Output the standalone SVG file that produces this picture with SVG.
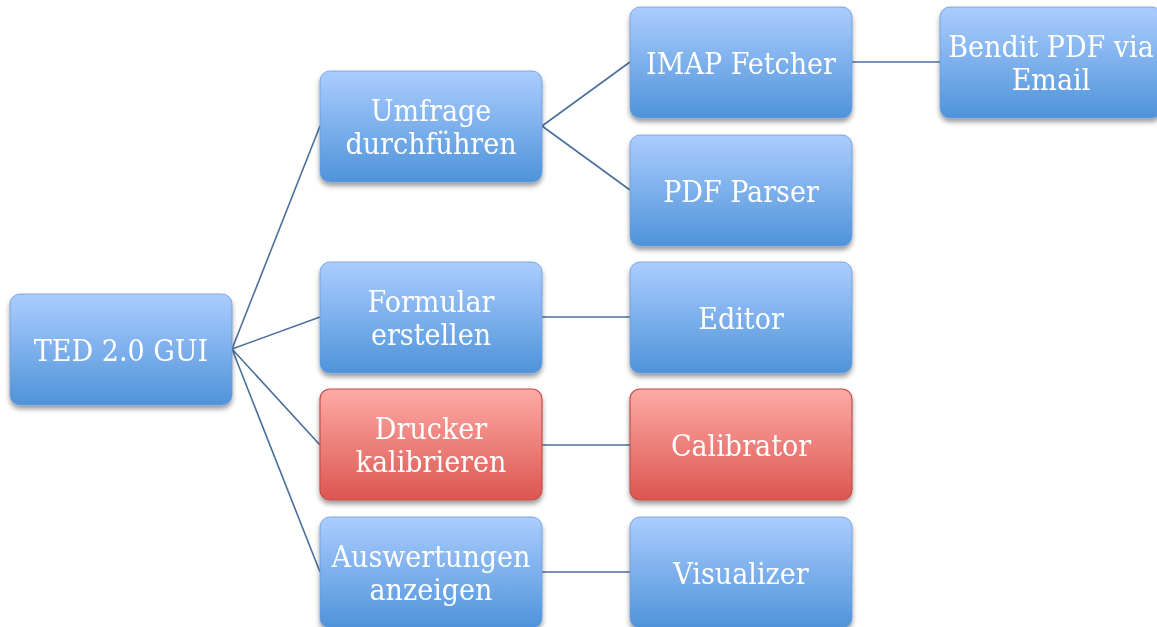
<svg xmlns="http://www.w3.org/2000/svg" width="1157" height="627" viewBox="0 0 1157 627">
<style>
.b rect{fill:url(#gb);stroke:#6a9ad8;stroke-width:0.8}
.r rect{fill:url(#gr);stroke:#c0504d;stroke-width:1.2}
text{font-family:"DejaVu Serif Condensed","DejaVu Serif","Liberation Serif",serif;font-stretch:condensed;font-size:30px;fill:#fff;text-anchor:middle}
.conn line{stroke:#4a6f9c;stroke-width:1.6}
</style>
<defs>
<linearGradient id="gb" x1="0" y1="0" x2="0" y2="1"><stop offset="0" stop-color="#abcdfe"/><stop offset="1" stop-color="#4f93da"/></linearGradient>
<linearGradient id="gr" x1="0" y1="0" x2="0" y2="1"><stop offset="0" stop-color="#feaaa7"/><stop offset="1" stop-color="#dc564f"/></linearGradient>
<filter id="sh" x="-10%" y="-10%" width="120%" height="135%"><feDropShadow dx="0" dy="3.5" stdDeviation="2.5" flood-color="#000" flood-opacity="0.4"/></filter>
</defs>
<g class="conn">
<line x1="232" y1="349" x2="320" y2="126"/>
<line x1="232" y1="349" x2="320" y2="317"/>
<line x1="232" y1="349" x2="320" y2="445"/>
<line x1="232" y1="349" x2="320" y2="572"/>
<line x1="542" y1="126" x2="630" y2="62"/>
<line x1="542" y1="126" x2="630" y2="190"/>
<line x1="852" y1="62" x2="940" y2="62"/>
<line x1="542" y1="317" x2="630" y2="317"/>
<line x1="542" y1="445" x2="630" y2="445"/>
<line x1="542" y1="572" x2="630" y2="572"/>
</g>
<g id="ted" class="node b" filter="url(#sh)"><rect x="10" y="294" width="222" height="111" rx="10"/><text x="121" y="361">TED 2.0 GUI</text></g>
<g id="umfrage" class="node b" filter="url(#sh)"><rect x="320" y="71" width="222" height="111" rx="10"/><text x="431" y="121">Umfrage</text><text x="431" y="154">durchführen</text></g>
<g id="imap" class="node b" filter="url(#sh)"><rect x="630" y="7" width="222" height="111" rx="10"/><text x="741" y="74">IMAP Fetcher</text></g>
<g id="bendit" class="node b" filter="url(#sh)"><rect x="940" y="7" width="222" height="111" rx="10"/><text x="1051" y="57">Bendit PDF via</text><text x="1051" y="90">Email</text></g>
<g id="pdf" class="node b" filter="url(#sh)"><rect x="630" y="135" width="222" height="111" rx="10"/><text x="741" y="202">PDF Parser</text></g>
<g id="formular" class="node b" filter="url(#sh)"><rect x="320" y="262" width="222" height="111" rx="10"/><text x="431" y="312">Formular</text><text x="431" y="345">erstellen</text></g>
<g id="editor" class="node b" filter="url(#sh)"><rect x="630" y="262" width="222" height="111" rx="10"/><text x="741" y="329">Editor</text></g>
<g id="drucker" class="node r" filter="url(#sh)"><rect x="320" y="389" width="222" height="111" rx="10"/><text x="431" y="439">Drucker</text><text x="431" y="472">kalibrieren</text></g>
<g id="calibrator" class="node r" filter="url(#sh)"><rect x="630" y="389" width="222" height="111" rx="10"/><text x="741" y="456">Calibrator</text></g>
<g id="auswertungen" class="node b" filter="url(#sh)"><rect x="320" y="517" width="222" height="111" rx="10"/><text x="431" y="567">Auswertungen</text><text x="431" y="600">anzeigen</text></g>
<g id="visualizer" class="node b" filter="url(#sh)"><rect x="630" y="517" width="222" height="111" rx="10"/><text x="741" y="584">Visualizer</text></g>
</svg>
